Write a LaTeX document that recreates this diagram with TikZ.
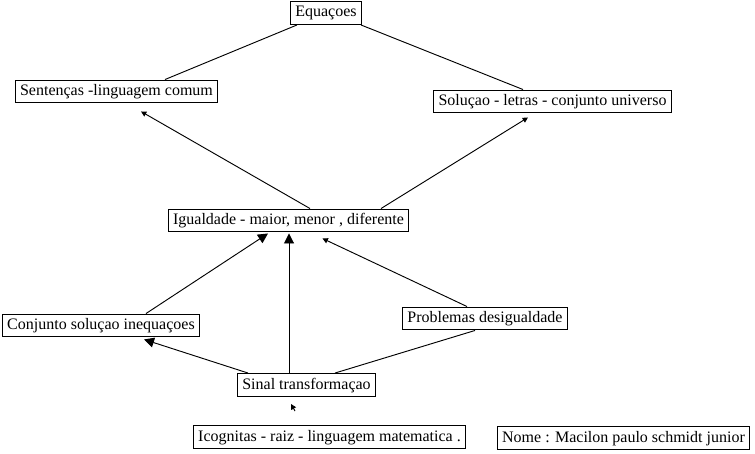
\documentclass[tikz,border=0pt]{standalone}
\usepackage{fontspec}
\setmainfont{Liberation Serif}
\usetikzlibrary{arrows.meta}

\begin{document}
\begin{tikzpicture}[x=0.75pt,y=-0.75pt,
	concept/.style={draw,line width=0.75pt,font=\fontsize{12}{14}\selectfont,inner xsep=3.5pt,inner ysep=3pt,text height=8.6pt,text depth=2.6pt},
	plainline/.style={line width=0.7pt},
	bigtip/.style={line width=0.7pt,-{Triangle[length=7.5pt,width=7.5pt]}},
	smalltip/.style={line width=0.7pt,-{Triangle[length=4pt,width=4pt]}}]
\useasboundingbox (0,0) rectangle (755,453);
\node[concept] (eq) at (326,13) {Equaçoes};
\node[concept] (sent) at (116.5,91.5) {Sentenças -linguagem comum};
\node[concept] (sol) at (552.5,101.5) {Soluçao - letras - conjunto universo};
\node[concept] (igual) at (288.5,220.5) {Igualdade - maior, menor , diferente};
\node[concept] (conj) at (101,325.5) {Conjunto soluçao inequaçoes};
\node[concept] (prob) at (485,318.5) {Problemas desigualdade};
\node[concept] (sinal) at (306.5,385) {Sinal transformaçao};
\node[concept] (icog) at (329.5,437) {Icognitas - raiz - linguagem matematica .};
\node[concept] (nome) at (623.5,438) {Nome : Macilon paulo schmidt junior};
% ligacoes
\draw[plainline] ([shift={(-29,0)}]eq.south) -- ([shift={(48.5,0)}]sent.north);
\draw[plainline] ([shift={(35,0)}]eq.south) -- ([shift={(-29.5,0)}]sol.north);
\draw[smalltip] ([shift={(21.5,0)}]igual.north) -- ([shift={(24.5,8)}]sent.south);
\draw[smalltip] ([shift={(92.5,0)}]igual.north) -- ([shift={(-24.5,4)}]sol.south);
\draw[bigtip] ([shift={(45,0)}]conj.north) -- ([shift={(-20.5,1)}]igual.south);
\draw[bigtip] ([shift={(-17.5,0)}]sinal.north) -- ([shift={(0.5,1)}]igual.south);
\draw[smalltip] ([shift={(-18,0)}]prob.north) -- ([shift={(34,6)}]igual.south);
\draw[bigtip] ([shift={(-58.5,0)}]sinal.north) -- ([shift={(43,2)}]conj.south);
\draw[plainline] ([shift={(28.5,0)}]sinal.north) -- ([shift={(-10,0)}]prob.south);
\draw[smalltip] ([shift={(-34.5,-14)}]icog.north) -- ([shift={(-15.5,7)}]sinal.south);
\end{tikzpicture}
\end{document}
